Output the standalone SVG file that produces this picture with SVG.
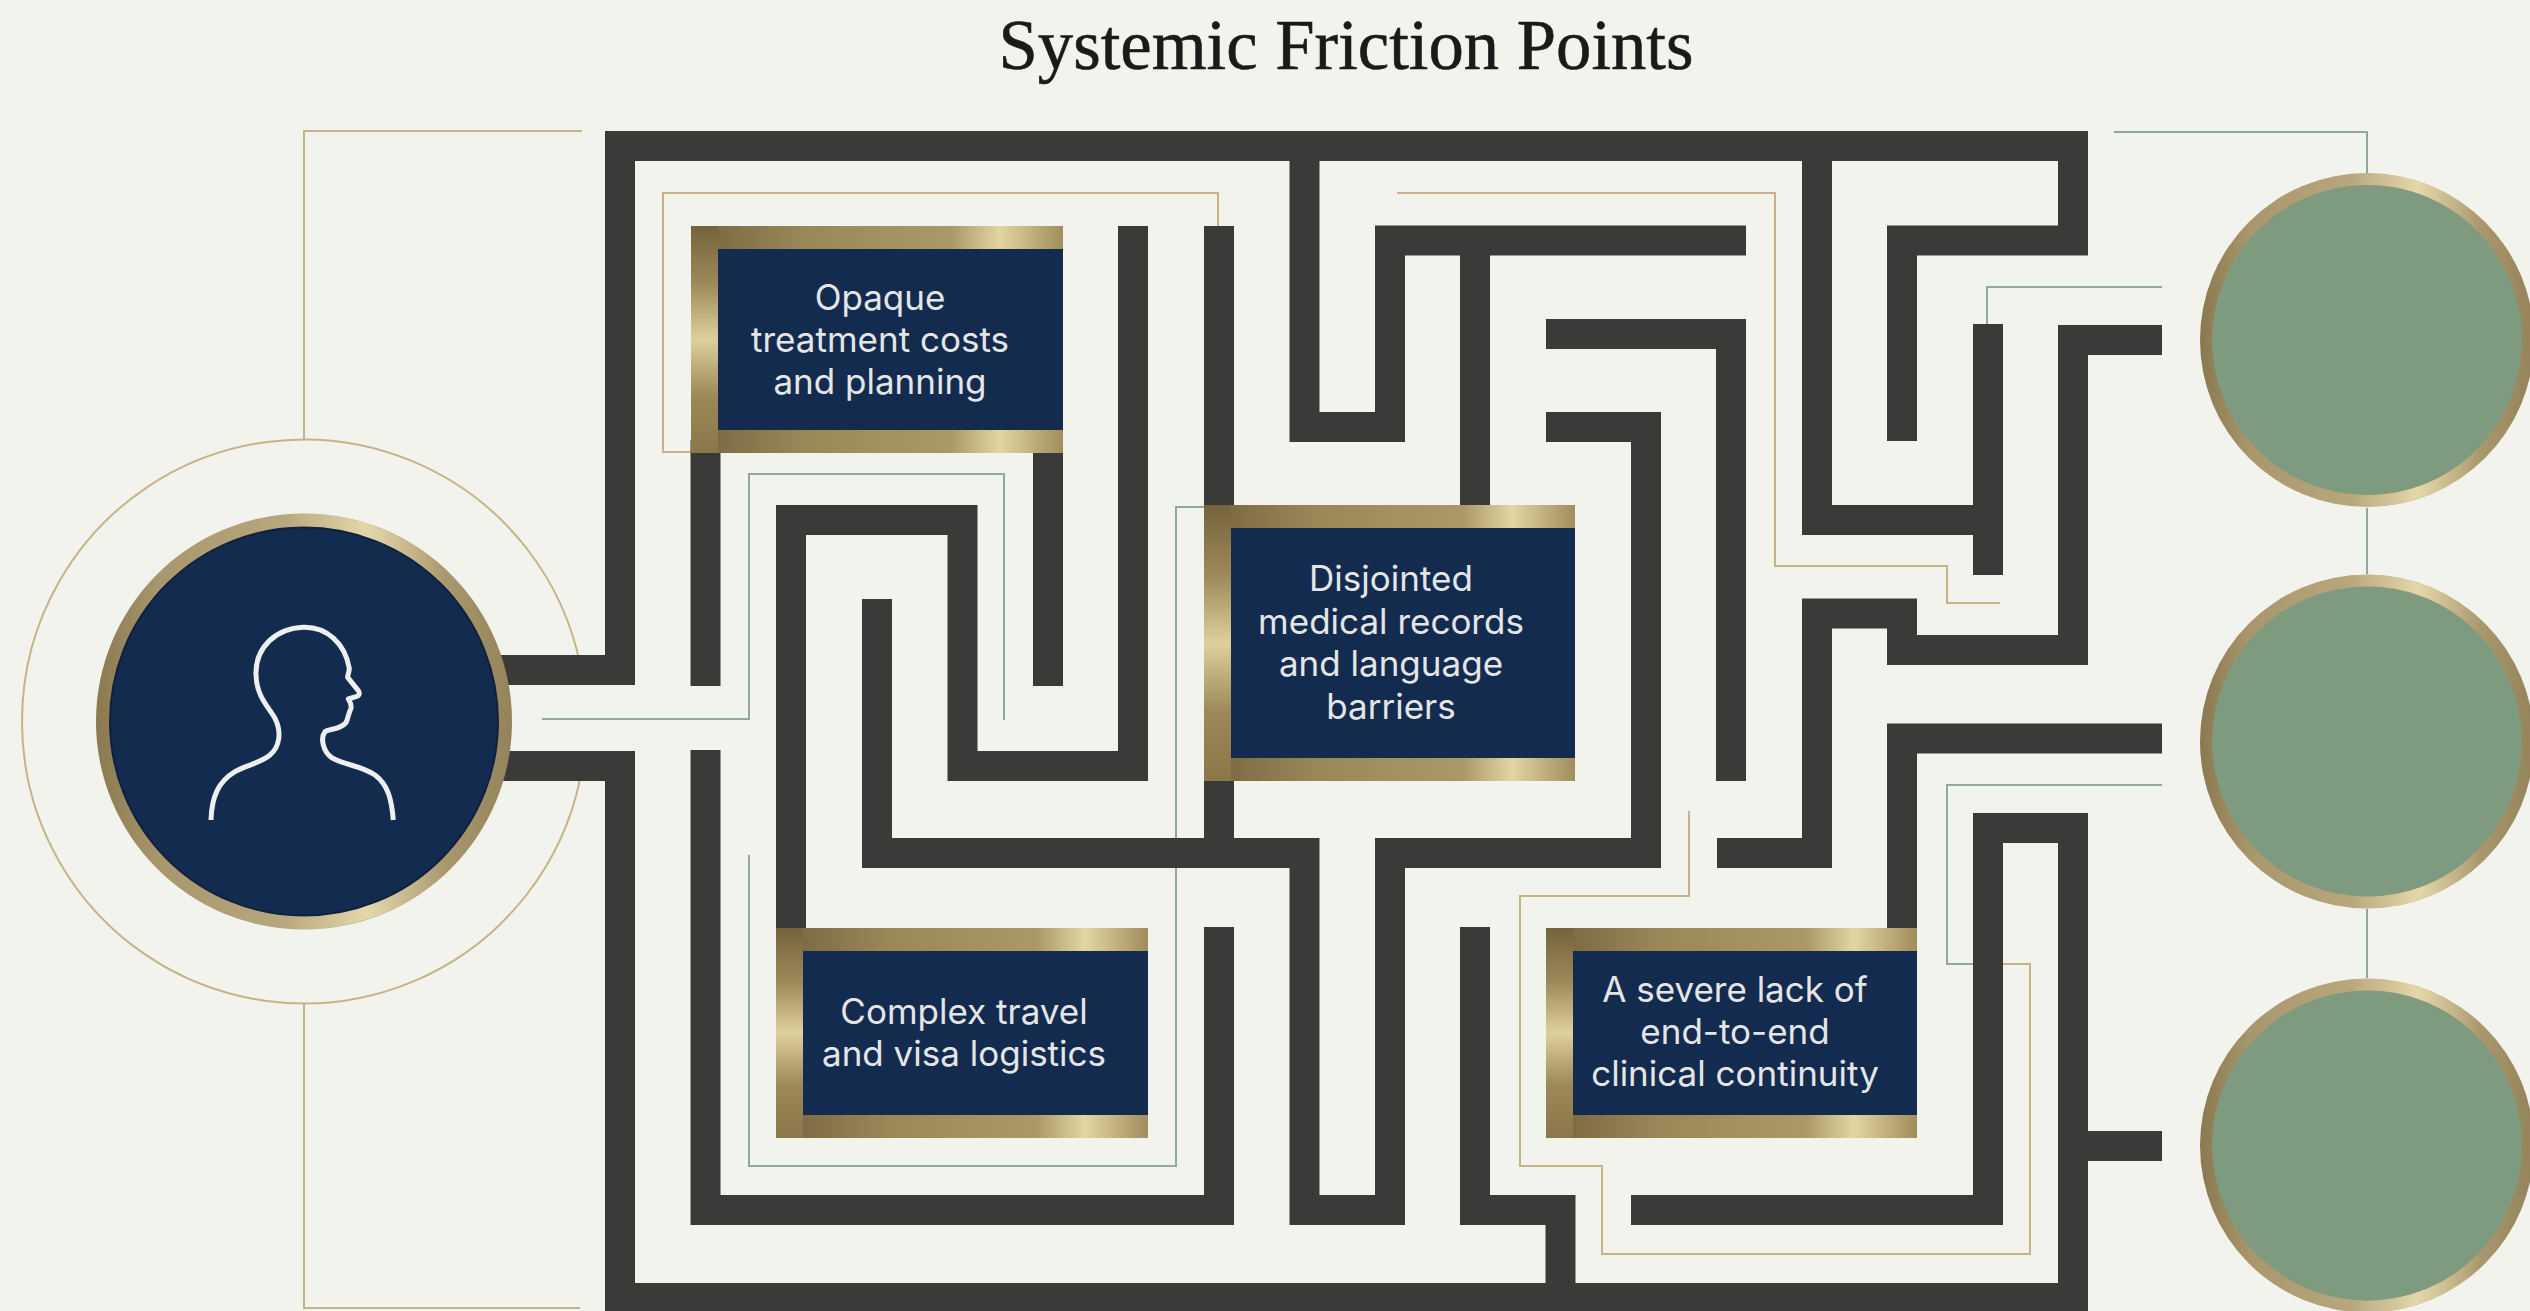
<svg xmlns="http://www.w3.org/2000/svg" width="2530" height="1311" viewBox="0 0 2530 1311">
<defs>
<linearGradient id="metalH" x1="0" y1="0" x2="1" y2="0"><stop offset="0" stop-color="#75633d"/><stop offset="0.3" stop-color="#9a8758"/><stop offset="0.7" stop-color="#ab9868"/><stop offset="0.83" stop-color="#e2d6a3"/><stop offset="1" stop-color="#a18c5c"/></linearGradient>
<linearGradient id="metalV" x1="0" y1="0" x2="0" y2="1"><stop offset="0" stop-color="#75633d"/><stop offset="0.25" stop-color="#9c8858"/><stop offset="0.5" stop-color="#ded09c"/><stop offset="0.75" stop-color="#9c8858"/><stop offset="1" stop-color="#8a7648"/></linearGradient>
<linearGradient id="rimBase" x1="0" y1="0" x2="1" y2="0"><stop offset="0" stop-color="#8a7850"/><stop offset="0.15" stop-color="#a8966c"/><stop offset="0.5" stop-color="#bbaa80"/><stop offset="0.85" stop-color="#a8966c"/><stop offset="1" stop-color="#94825a"/></linearGradient>
<linearGradient id="rimGlint" x1="0" y1="0" x2="1" y2="0"><stop offset="0" stop-color="#e4d8aa" stop-opacity="0"/><stop offset="0.5" stop-color="#e4d8aa"/><stop offset="1" stop-color="#e4d8aa" stop-opacity="0"/></linearGradient>
<g id="rim">
<circle r="100" fill="url(#rimBase)"/>
<path d="M-8.400 -96.100A96.500 96.500 0 0 1 68.200 -68.200" fill="none" stroke="url(#rimGlint)" stroke-width="7"/>
<path d="M68.200 68.200A96.500 96.500 0 0 1 -8.400 96.100" fill="none" stroke="url(#rimGlint)" stroke-width="7"/>
</g>
<style>
.wall{fill:none;stroke:#3a3a39;stroke-width:30;stroke-linejoin:miter;stroke-linecap:butt}
.gold{fill:none;stroke:#c6b388;stroke-width:2}
.sage{fill:none;stroke:#93a998;stroke-width:2}
.fh{fill:url(#metalH)}
.fv{fill:url(#metalV)}
.navy{fill:#142b50}
.lbl{font-family:"Inter","Liberation Sans",sans-serif;font-size:35px;fill:#e4e6e6;text-anchor:middle}
.title{font-family:"Liberation Serif","DejaVu Serif",serif;font-size:71px;fill:#1a1a1a;stroke:#1a1a1a;stroke-width:.6;text-anchor:middle}
.green{fill:#7f9b7f}
</style>
</defs>
<rect width="2530" height="1311" fill="#f3f3ed"/>
<text class="title" x="1346" y="68.500" textLength="695" lengthAdjust="spacingAndGlyphs">Systemic Friction Points</text>
<g id="connectors">
<path class="gold" d="M580.300 665A282 282 0 1 0 580.300 778"/>
<path class="gold" d="M304 440V131H582"/>
<path class="gold" d="M304 1003V1308H580"/>
<path class="gold" d="M691 452H663V193H1218V226"/>
<path class="sage" d="M542 719H749V474H1004V720"/>
<path class="sage" d="M1204 507H1176V1166H749V855"/>
<path class="gold" d="M1397 193H1775V566H1947V603H2000"/>
<path class="sage" d="M2114 132H2367V173"/>
<path class="sage" d="M2367 508V574"/>
<path class="sage" d="M2367 909V978"/>
<path class="sage" d="M2162 287H1987V324"/>
<path class="sage" d="M2162 785H1947V964H1990"/>
<path class="gold" d="M1689 811V896H1520V1166H1602V1254H2030V964H1995"/>
</g>
<g id="maze">
<path class="wall" d="M500 670H620V146H2073V240.500H1902V441"/>
<path class="wall" d="M500 766H620V1298H2073V828H1988V1210H1631"/>
<path class="wall" d="M2073 1146H2162"/>
<path class="wall" d="M705.500 440V686"/>
<path class="wall" d="M1048 440V686"/>
<path class="wall" d="M1133 226V766H962.500V520H791V935"/>
<path class="wall" d="M877 599V853H1304.500V1210H1390V853H1646V427H1546"/>
<path class="wall" d="M1219 226V853"/>
<path class="wall" d="M705.500 750V1210H1219V927"/>
<path class="wall" d="M1304.500 146V427H1390V240.500H1746"/>
<path class="wall" d="M1475 240V510"/>
<path class="wall" d="M1546 334H1731V781"/>
<path class="wall" d="M1817 146V520H1988"/>
<path class="wall" d="M1988 324V575"/>
<path class="wall" d="M2162 340H2073V650H1902V613.500H1817V853H1717"/>
<path class="wall" d="M2162 738.500H1902V935"/>
<path class="wall" d="M1475 927V1210H1560.500V1298"/>
</g>
<g id="person">
<use href="#rim" transform="translate(304 721.500) scale(2.080)"/>
<circle class="navy" cx="304" cy="721.500" r="194" stroke="#10213f" stroke-width="2"/>
<path transform="translate(180 600) scale(.3333)" fill="none" stroke="#eef0f0" stroke-width="15" stroke-linecap="butt" stroke-linejoin="round" d="M93 660C95 590 115 545 165 515C200 495 240 490 270 465C300 440 305 395 285 355C265 320 230 290 228 225C225 140 290 85 370 82C440 80 495 130 508 205C508 215 503 225 503 232L535 272C542 282 535 288 528 290L505 297C510 305 515 315 513 325C505 340 505 355 498 368C480 390 450 385 435 395C420 415 430 455 455 473C490 495 540 495 585 525C625 555 635 600 640 660"/>
</g>
<g id="box-costs">
<rect class="fh" x="691" y="226" width="372" height="23"/>
<rect class="fh" x="691" y="430" width="372" height="23"/>
<rect class="fv" x="691" y="226" width="27" height="227"/>
<rect class="navy" x="718" y="249" width="345" height="181"/>
<text class="lbl" x="880" y="310">Opaque</text>
<text class="lbl" x="880" y="351.500">treatment costs</text>
<text class="lbl" x="880" y="394">and planning</text>
</g>
<g id="box-records">
<rect class="fh" x="1204" y="505" width="371" height="23"/>
<rect class="fh" x="1204" y="758" width="371" height="23"/>
<rect class="fv" x="1204" y="505" width="27" height="276"/>
<rect class="navy" x="1231" y="528" width="344" height="230"/>
<text class="lbl" x="1391" y="591">Disjointed</text>
<text class="lbl" x="1391" y="633.500">medical records</text>
<text class="lbl" x="1391" y="676">and language</text>
<text class="lbl" x="1391" y="718.500">barriers</text>
</g>
<g id="box-travel">
<rect class="fh" x="776" y="928" width="372" height="23"/>
<rect class="fh" x="776" y="1115" width="372" height="23"/>
<rect class="fv" x="776" y="928" width="27" height="210"/>
<rect class="navy" x="803" y="951" width="345" height="164"/>
<text class="lbl" x="964" y="1023.500">Complex travel</text>
<text class="lbl" x="964" y="1065.500">and visa logistics</text>
</g>
<g id="box-continuity">
<rect class="fh" x="1546" y="928" width="371" height="23"/>
<rect class="fh" x="1546" y="1115" width="371" height="23"/>
<rect class="fv" x="1546" y="928" width="27" height="210"/>
<rect class="navy" x="1573" y="951" width="344" height="164"/>
<text class="lbl" x="1735" y="1002">A severe lack of</text>
<text class="lbl" x="1735" y="1044">end-to-end</text>
<text class="lbl" x="1735" y="1086">clinical continuity</text>
</g>
<g id="circle-1"><use href="#rim" transform="translate(2367 340) scale(1.670)"/><circle class="green" cx="2367" cy="340" r="155"/></g>
<g id="circle-2"><use href="#rim" transform="translate(2367 741.500) scale(1.670)"/><circle class="green" cx="2367" cy="741.500" r="155"/></g>
<g id="circle-3"><use href="#rim" transform="translate(2367 1145.500) scale(1.670)"/><circle class="green" cx="2367" cy="1145.500" r="155"/></g>
</svg>
